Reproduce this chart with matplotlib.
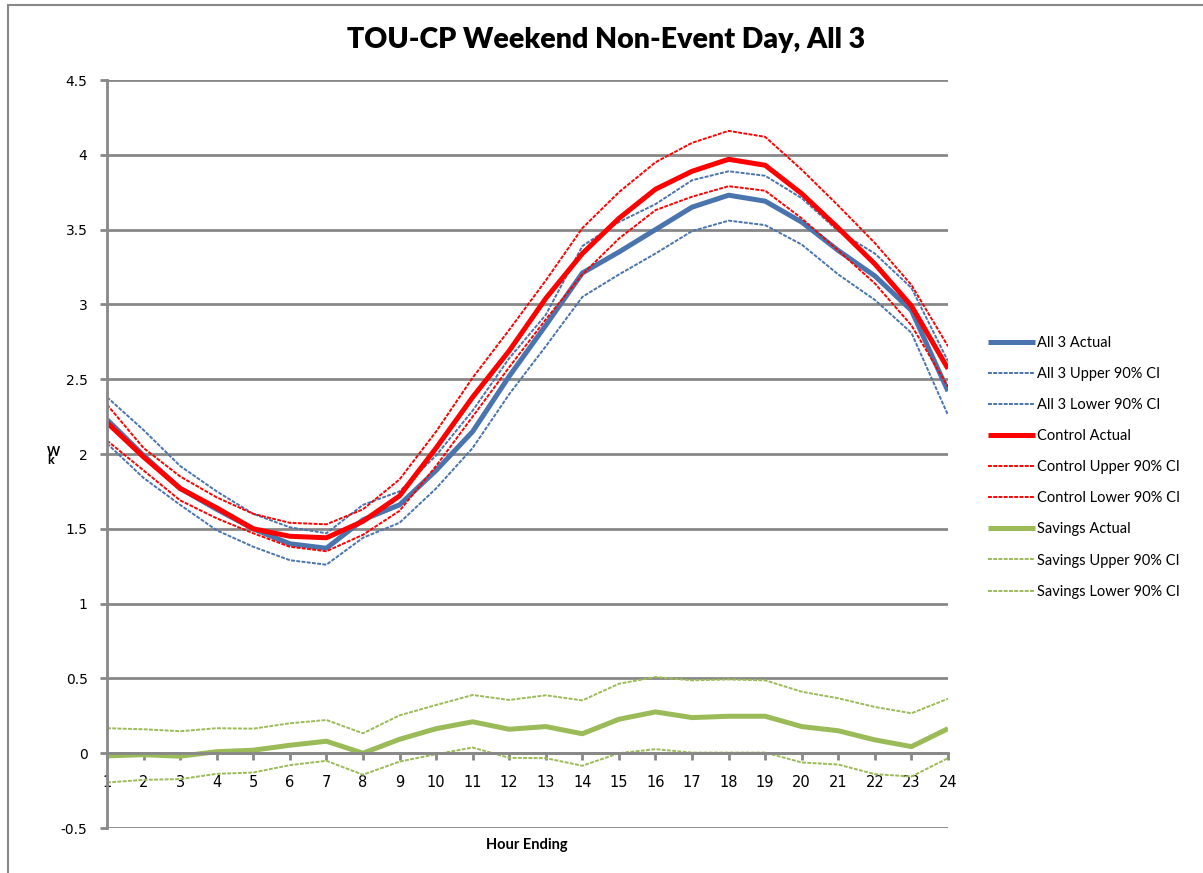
import matplotlib.pyplot as plt
from matplotlib.patches import Rectangle

hours = list(range(1, 25))

all3_actual = [2.23, 1.99, 1.77, 1.63, 1.50, 1.40, 1.37, 1.56, 1.66, 1.89, 2.15, 2.52,
               2.86, 3.21, 3.35, 3.50, 3.65, 3.73, 3.69, 3.55, 3.36, 3.19, 2.96, 2.42]
all3_upper = [2.38, 2.16, 1.92, 1.75, 1.60, 1.51, 1.47, 1.66, 1.75, 1.99, 2.29, 2.64,
              2.93, 3.39, 3.55, 3.67, 3.83, 3.89, 3.86, 3.71, 3.49, 3.34, 3.11, 2.62]
all3_lower = [2.07, 1.84, 1.66, 1.49, 1.38, 1.29, 1.26, 1.44, 1.54, 1.77, 2.04, 2.40,
              2.72, 3.05, 3.20, 3.34, 3.49, 3.56, 3.53, 3.40, 3.20, 3.03, 2.81, 2.26]

control_actual = [2.21, 1.98, 1.77, 1.64, 1.50, 1.45, 1.44, 1.55, 1.72, 2.04, 2.38, 2.69,
                  3.04, 3.34, 3.575, 3.77, 3.89, 3.97, 3.93, 3.74, 3.51, 3.27, 2.99, 2.57]
control_upper = [2.33, 2.04, 1.85, 1.71, 1.60, 1.54, 1.53, 1.63, 1.83, 2.15, 2.51, 2.83,
                 3.16, 3.51, 3.75, 3.95, 4.08, 4.16, 4.12, 3.90, 3.66, 3.41, 3.13, 2.72]
control_lower = [2.09, 1.89, 1.69, 1.57, 1.47, 1.38, 1.35, 1.46, 1.62, 1.92, 2.25, 2.58,
                 2.90, 3.20, 3.44, 3.63, 3.72, 3.79, 3.76, 3.575, 3.36, 3.14, 2.86, 2.45]

savings_actual = [-0.018, -0.01, -0.02, 0.01, 0.02, 0.053, 0.08, 0.0, 0.093, 0.164, 0.21, 0.16,
                  0.178, 0.13, 0.227, 0.276, 0.238, 0.247, 0.247, 0.178, 0.15, 0.089, 0.044, 0.164]
savings_upper = [0.167, 0.16, 0.147, 0.167, 0.164, 0.2, 0.222, 0.133, 0.253, 0.322, 0.389, 0.356,
                 0.387, 0.353, 0.464, 0.509, 0.487, 0.493, 0.487, 0.411, 0.367, 0.309, 0.267, 0.364]
savings_lower = [-0.196, -0.178, -0.173, -0.138, -0.129, -0.08, -0.051, -0.144, -0.056, -0.007, 0.038, -0.031,
                 -0.033, -0.084, 0.0, 0.027, 0.004, 0.004, 0.004, -0.062, -0.076, -0.14, -0.156, -0.033]

BLUE = '#4A74AD'
RED = '#FF0000'
GREEN = '#9BBB59'
GRID = '#888888'

series = [
    ("All 3 Actual", all3_actual, BLUE, True),
    ("All 3 Upper 90% CI", all3_upper, BLUE, False),
    ("All 3 Lower 90% CI", all3_lower, BLUE, False),
    ("Control Actual", control_actual, RED, True),
    ("Control Upper 90% CI", control_upper, RED, False),
    ("Control Lower 90% CI", control_lower, RED, False),
    ("Savings Actual", savings_actual, GREEN, True),
    ("Savings Upper 90% CI", savings_upper, GREEN, False),
    ("Savings Lower 90% CI", savings_lower, GREEN, False),
]

fig = plt.figure(figsize=(12.03, 8.73), dpi=100)
ax = fig.add_axes([107 / 1203, 1 - 828 / 873, (948 - 107) / 1203, (828 - 80) / 873])

for label, vals, color, solid in series:
    if solid:
        ax.plot(hours, vals, color=color, lw=3.6, label=label, solid_capstyle='butt')
    else:
        ax.plot(hours, vals, color=color, lw=1.4, ls=(0, (2.0, 0.7)), label=label)

ax.set_xlim(1, 24)
ax.set_ylim(-0.5, 4.5)
yt = [-0.5 + 0.5 * i for i in range(11)]
ax.set_yticks(yt)
ax.set_yticklabels([f"{v:g}" for v in yt])
ax.set_xticks(hours)
ax.set_xticklabels([str(h) for h in hours])

for v in yt:
    ax.axhline(v, color=GRID, lw=2, zorder=0)

for s in ['top', 'right']:
    ax.spines[s].set_visible(False)
ax.spines['bottom'].set_position(('data', 0))
ax.spines['bottom'].set_color(GRID)
ax.spines['bottom'].set_linewidth(2)
ax.spines['left'].set_color(GRID)
ax.spines['left'].set_linewidth(2)
ax.tick_params(axis='y', direction='out', length=5, width=2, color=GRID, pad=9, labelsize=10)
ax.tick_params(axis='x', direction='out', length=5, width=2, color=GRID, pad=11, labelsize=10.5)
for t in ax.get_xticklabels() + ax.get_yticklabels():
    t.set_fontfamily('DejaVu Sans')

fig.legend(loc='upper left', bbox_to_anchor=(975 / 1203, 1 - 323 / 873), frameon=False,
           handlelength=3.2, handletextpad=0.15, labelspacing=1.17,
           prop={'family': 'Lato', 'size': 10.5})

fig.text(606 / 1203, 1 - 40 / 873, "TOU-CP Weekend Non-Event Day, All 3", ha='center', va='center',
         fontsize=20.5, fontweight='heavy', family='Lato')
fig.text(527 / 1203, 1 - 845 / 873, "Hour Ending", ha='center', va='center',
         fontsize=10.5, fontweight='bold', family='Lato')
fig.text(47 / 1203, 1 - 456 / 873, "W\nk", ha='left', va='center', ma='left', linespacing=0.55,
         fontsize=9, fontweight='bold', family='Lato')

fig.patches.append(Rectangle((8 / 1203, -0.05), 1.2, 1 - 5 / 873 + 0.05, transform=fig.transFigure,
                             fill=False, edgecolor=GRID, lw=1.5))

fig.savefig("out.png", dpi=100)
